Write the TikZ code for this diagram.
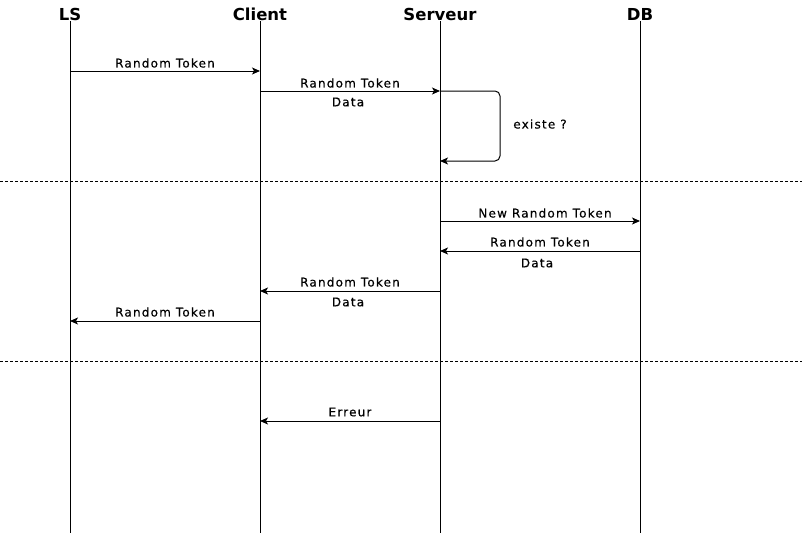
\documentclass[tikz,border=0pt]{standalone}
\usepackage{fontspec}
\setmainfont{DejaVu Sans}
\newfontfamily\lblfont[LetterSpace=10,FakeBold=0.5]{DejaVu Sans}
\usetikzlibrary{arrows.meta}
\tikzset{
  actor/.style={font=\bfseries\fontsize{16.5}{18}\selectfont, inner sep=0pt, anchor=base},
  lifeline/.style={line width=1pt},
  msg/.style={line width=1pt, -{Stealth[length=8pt,width=7pt,inset=2pt]}},
  lbl/.style={font=\lblfont\fontsize{12}{14}\selectfont, inner sep=0pt},
  sep/.style={line width=0.7pt, dash pattern=on 3pt off 2pt},
}
\begin{document}
\begin{tikzpicture}[x=1pt,y=-1pt]
\useasboundingbox (0,0) rectangle (802,533);
% actors
\node[actor] (LS) at (70,20) {LS};
\node[actor] (C) at (260,20) {Client};
\node[actor] (S) at (440,20) {Serveur};
\node[actor] (DB) at (640,20) {DB};
\coordinate (LSb) at (70,533);
\coordinate (Cb) at (260,533);
\coordinate (Sb) at (440,533);
\coordinate (DBb) at (640,533);
\draw[lifeline] (70,21) -- (LSb);
\draw[lifeline] (260,21) -- (Cb);
\draw[lifeline] (440,21) -- (Sb);
\draw[lifeline] (640,21) -- (DBb);
% separators
\coordinate (d1l) at (0,181); \coordinate (d1r) at (802,181);
\coordinate (d2l) at (0,361); \coordinate (d2r) at (802,361);
\draw[sep] (d1l) -- (d1r);
\draw[sep] (d2l) -- (d2r);
% message endpoints
\coordinate (m1a) at (70,71);   \coordinate (m1b) at (260,71);
\coordinate (m2a) at (260,91);  \coordinate (m2b) at (440,91);
\coordinate (m3b) at (440,161);
\coordinate (m4a) at (440,221); \coordinate (m4b) at (640,221);
\coordinate (m5a) at (640,251); \coordinate (m5b) at (440,251);
\coordinate (m6a) at (440,291); \coordinate (m6b) at (260,291);
\coordinate (m7a) at (260,321); \coordinate (m7b) at (70,321);
\coordinate (m8a) at (440,421); \coordinate (m8b) at (260,421);
% messages
\draw[msg] (m1a) -- (m1b);
\node[lbl] (t1) at (165,63) {Random Token};
\draw[msg] (m2a) -- (m2b);
\node[lbl] (t2) at (350,83) {Random Token};
\node[lbl] (t2b) at (348,102) {Data};
\draw[msg, rounded corners=5pt] (m2b) -- (500,91) -- (500,161) -- (m3b);
\node[lbl] (t3) at (540,124) {existe ?};
\draw[msg] (m4a) -- (m4b);
\node[lbl] (t4) at (545,213) {New Random Token};
\draw[msg] (m5a) -- (m5b);
\node[lbl] (t5) at (540,242) {Random Token};
\node[lbl] (t5b) at (537,263) {Data};
\draw[msg] (m6a) -- (m6b);
\node[lbl] (t6) at (350,282) {Random Token};
\node[lbl] (t6b) at (348,302) {Data};
\draw[msg] (m7a) -- (m7b);
\node[lbl] (t7) at (165,312) {Random Token};
\draw[msg] (m8a) -- (m8b);
\node[lbl] (t8) at (350,412) {Erreur};
\end{tikzpicture}
\end{document}
